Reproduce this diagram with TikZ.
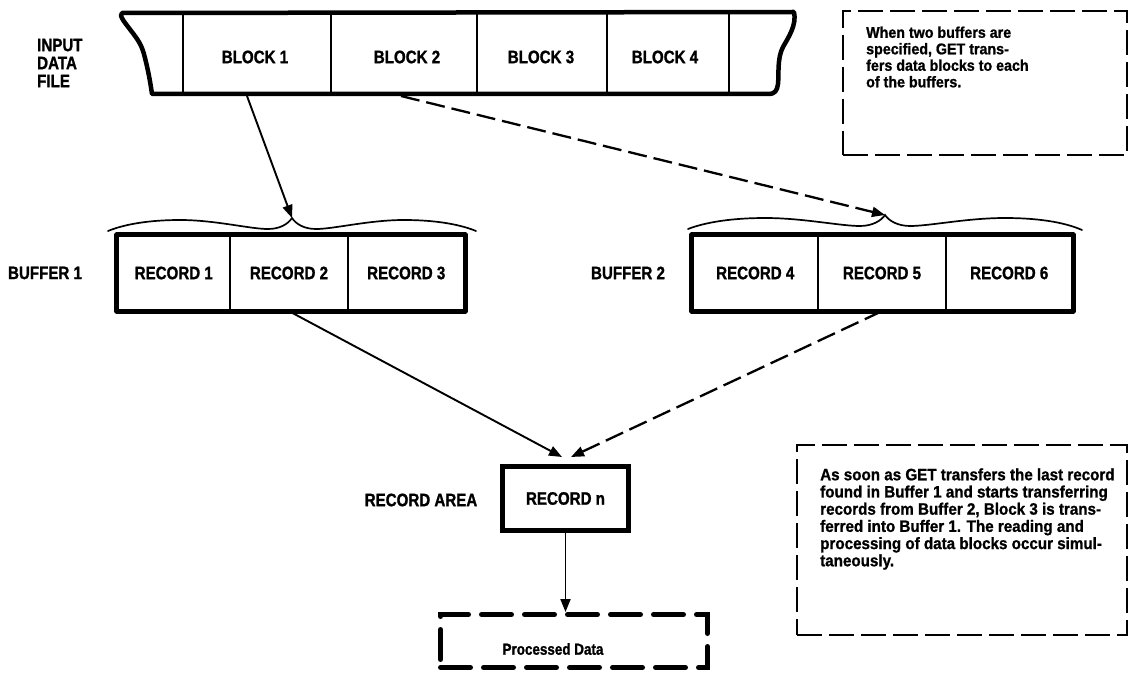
\documentclass[tikz,border=0pt]{standalone}
\usepackage{fontspec}
\newfontfamily\lblfont[FakeStretch=0.84,FakeBold=1.2]{Liberation Sans}
\newfontfamily\notefont[FakeStretch=0.92,FakeBold=1.0]{Liberation Sans}
\usetikzlibrary{arrows.meta}
\begin{document}
\begin{tikzpicture}[x=1pt,y=-1pt,
  lbl/.style={font=\lblfont\bfseries\fontsize{18}{18}\selectfont, inner sep=0pt},
  rec/.style={draw, line width=1.3pt, minimum height=75pt, inner sep=0pt,
              font=\lblfont\bfseries\fontsize{18}{18}\selectfont},
  heavy/.style={line width=5pt, line join=round},
  thinline/.style={line width=1.2pt},
  bracestyle/.style={line width=1.7pt, line cap=round},
  solidarrow/.style={line width=1.9pt, -{Triangle[length=13pt,width=10pt]}},
  dasharrow/.style={line width=2.3pt, dash pattern=on 19pt off 7pt, -{Triangle[length=13pt,width=10pt]}},
  notebox/.style={draw, line width=2.8pt, dash pattern=on 25pt off 7pt, inner sep=0pt},
  notetext/.style={font=\notefont\bfseries\fontsize{15.5}{16.5}\selectfont, align=left, inner sep=0pt, anchor=west},
  pdbox/.style={draw, line width=5pt, dash pattern=on 30pt off 13pt, line cap=round, inner sep=0pt},
]
\fill[white] (0,0) rectangle (1130,679);
\useasboundingbox (0,0) rectangle (1130,679);

% ---------- input data file (tape) ----------
\node[lbl, align=left, anchor=west, font=\lblfont\bfseries\fontsize{18}{18}\selectfont] (inlab) at (37,63) {INPUT\\DATA\\FILE};
\draw[line width=4.5pt, line join=round]
  (122,13) -- (794,12)
  .. controls (797,25) and (788,38) .. (783,47)
  .. controls (777,58) and (779,75) .. (778,84)
  .. controls (777,91) and (775,94) .. (768,94)
  -- (152,94)
  .. controls (150,80) and (148,70) .. (145,58)
  .. controls (142,45) and (138,40) .. (132,32)
  .. controls (126,24) and (118,15) .. (122,13) -- cycle;
\foreach \xx in {183,331,477,607,729} \draw[thinline] (\xx,14) -- (\xx,93);
\node[lbl] (b1) at (255,57) {BLOCK 1};
\node[lbl] (b2) at (407,57) {BLOCK 2};
\node[lbl] (b3) at (541,57) {BLOCK 3};
\node[lbl] (b4) at (665,57) {BLOCK 4};
\coordinate (t1) at (247,96);
\coordinate (t2) at (401,96);

% ---------- note 1 ----------
\node[notebox, minimum width=284pt, minimum height=144pt] (n1) at (985,83) {};
\node[notetext] (n1t) at (866,57) {When two buffers are\\specified, GET trans-\\fers data blocks to each\\of the buffers.};

% ---------- buffer 1 ----------
\node[lbl] (buf1lab) at (45,273) {BUFFER 1};
\node[rec, minimum width=112.5pt] (r1) at (173.75,273) {RECORD 1};
\node[rec, minimum width=118pt] (r2) at (289,273) {RECORD 2};
\node[rec, minimum width=116.5pt] (r3) at (406.25,273) {RECORD 3};
\draw[heavy] (r1.north west) rectangle (r3.south east);
\coordinate (bt1) at (292,218);
\draw[bracestyle]
  (108,231) .. controls (125,224) and (150,220) .. (180,220)
  .. controls (215,220) and (250,229) .. (268,229)
  .. controls (280,229) and (288,224) .. (bt1)
  .. controls (296,224) and (304,229) .. (316,229)
  .. controls (334,229) and (369,220) .. (404,220)
  .. controls (434,220) and (459,224) .. (476,231);

% ---------- buffer 2 ----------
\node[lbl] (buf2lab) at (628,273) {BUFFER 2};
\node[rec, minimum width=125.5pt] (r4) at (755.25,273) {RECORD 4};
\node[rec, minimum width=128pt] (r5) at (882,273) {RECORD 5};
\node[rec, minimum width=126.5pt] (r6) at (1009.25,273) {RECORD 6};
\draw[heavy] (r4.north west) rectangle (r6.south east);
\coordinate (bt2) at (885,215);
\draw[bracestyle]
  (688,229) .. controls (706,222) and (733,218) .. (765,218)
  .. controls (803,218) and (840,226) .. (860,226)
  .. controls (872,226) and (881,221) .. (bt2)
  .. controls (889,221) and (898,226) .. (910,226)
  .. controls (930,226) and (967,218) .. (1005,218)
  .. controls (1037,218) and (1064,222) .. (1082,230);

% ---------- arrows from tape ----------
\draw[solidarrow] (t1) -- (bt1);
\draw[dasharrow] (t2) -- (bt2);

% ---------- record area ----------
\node[lbl] (ralab) at (421,500) {RECORD AREA};
\node[rec, line width=5pt, minimum width=126pt, minimum height=64pt] (rn) at (565.5,498.5) {RECORD n};
\coordinate (rin1) at (562,457);
\coordinate (rin2) at (571,457);
\draw[solidarrow] (r2.south) -- (rin1);
\draw[dasharrow] (r5.south) -- (rin2);

% ---------- processed data ----------
\node[pdbox, minimum width=267pt, minimum height=53pt] (pd) at (574,641) {};
\node[lbl, font=\lblfont\bfseries\fontsize{16}{16}\selectfont] (pdt) at (553,649) {Processed Data};
\draw[solidarrow] (rn.south) -- (rn.south |- pd.north);

% ---------- note 2 ----------
\node[notebox, minimum width=330pt, minimum height=190pt] (n2) at (962,540) {};
\node[notetext, font=\notefont\bfseries\fontsize{16.5}{17.2}\selectfont] (n2t) at (820,519) {As soon as GET transfers the last record\\found in Buffer 1 and starts transferring\\records from Buffer 2, Block 3 is trans-\\ferred into Buffer 1.  The reading and\\processing of data blocks occur simul-\\taneously.};
\end{tikzpicture}
\end{document}
